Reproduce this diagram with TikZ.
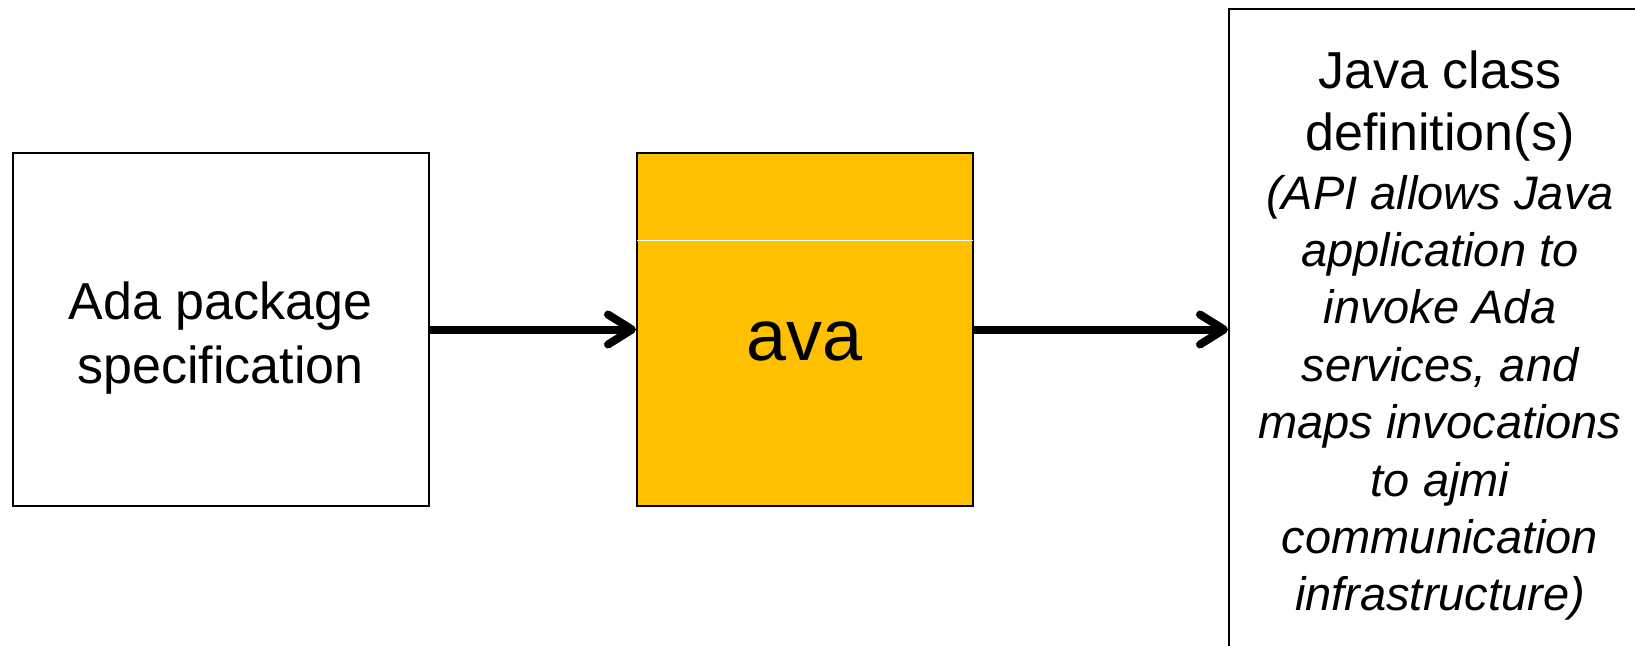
\documentclass[tikz,border=0pt]{standalone}
\usepackage{fontspec}
\setmainfont{Liberation Sans}
\usetikzlibrary{arrows.meta}
\definecolor{gold}{HTML}{FFC000}
\newcommand{\noteline}{\fontsize{23.5}{28.7}\selectfont\itshape}
\begin{document}
\begin{tikzpicture}[x=0.5pt,y=-0.5pt,
  box/.style={draw=black,line width=1pt,inner sep=0pt,align=center},
  flow/.style={line width=4pt,
    -{Straight Barb[length=12pt,width=15pt,line cap=round,line join=round]}}]
\useasboundingbox (0,0) rectangle (1635,645);
\clip (0,0) rectangle (1635,645);
% source specification
\node[box,minimum width=208pt,minimum height=176.5pt,
  font=\fontsize{26}{32}\selectfont,text height=59pt] (spec) at (220.5,329.5)
  {Ada package\\specification};
% generator
\node[box,fill=gold,minimum width=168pt,minimum height=176.5pt,
  font=\fontsize{36}{43}\selectfont,text height=36pt,text depth=5.4pt]
  (ava) at (805,329.5) {ava};
\draw[white,line width=0.5pt]
  ([xshift=0.5pt,yshift=-44pt]ava.north west) --
  ([xshift=-0.5pt,yshift=-44pt]ava.north east);
% generated Java classes
\node[box,anchor=north west,minimum width=211pt,inner ysep=21pt,
  font=\fontsize{26}{31}\selectfont] (java) at (1228,8)
  {Java class\\definition(s)\\[-1.8pt]
   \noteline (API allows Java\\[-2.3pt]
   \noteline application to\\[-2.3pt]
   \noteline invoke Ada\\[-2.3pt]
   \noteline services, and\\[-2.3pt]
   \noteline maps invocations\\[-2.3pt]
   \noteline to ajmi\\[-2.3pt]
   \noteline communication\\[-2.3pt]
   \noteline infrastructure)};
\draw[flow] (spec.east) -- (ava.west);
\draw[flow] (ava.east) -- (ava.east -| java.west);
\end{tikzpicture}
\end{document}
